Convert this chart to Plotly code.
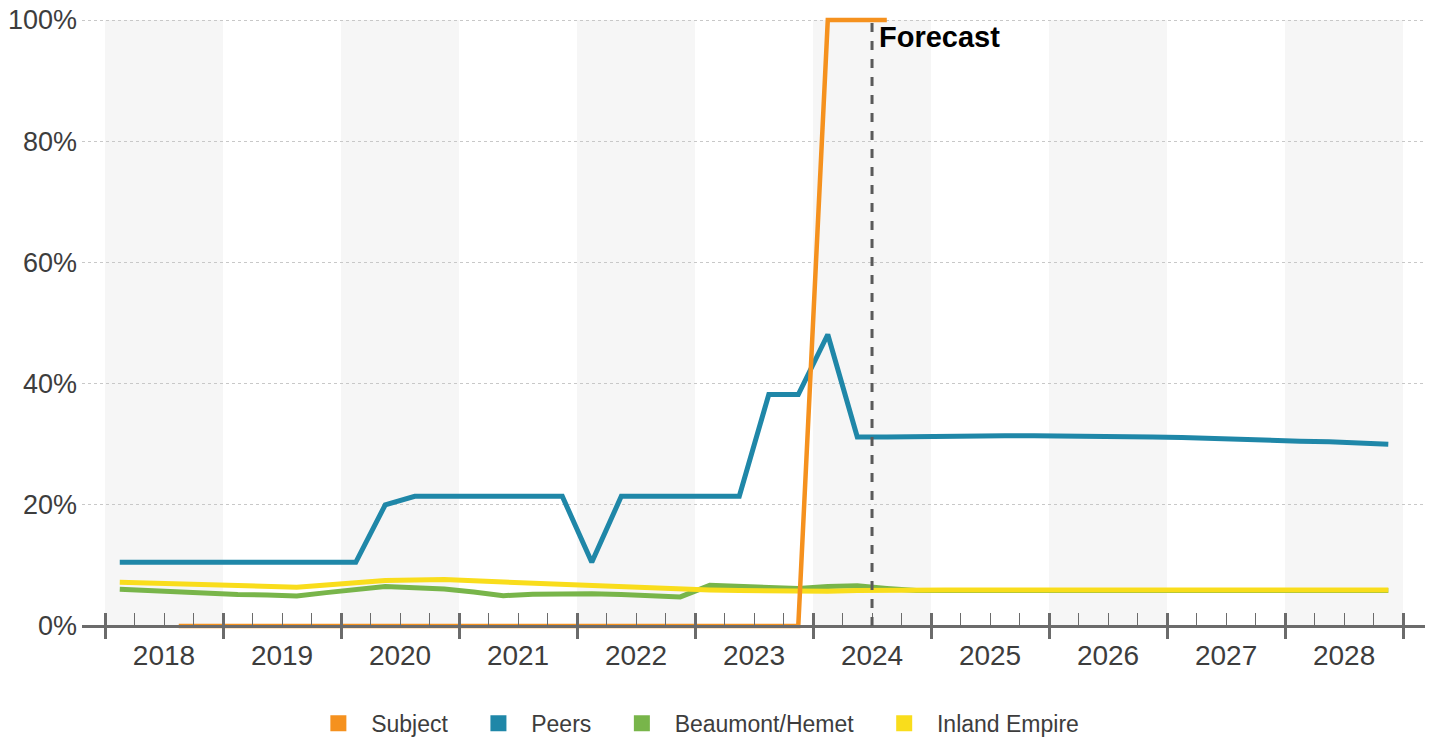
import plotly.graph_objects as go

# Quarterly series, 2018Q1 .. 2028Q4 (values in %)
QUARTERS = [f"{y}Q{q}" for y in range(2018, 2029) for q in range(1, 5)]

subject = [None, None,
           0, 0, 0, 0, 0, 0, 0, 0, 0, 0, 0, 0, 0, 0, 0, 0, 0, 0, 0, 0, 0, 0,
           100, 100, 100,
           None, None, None, None, None, None, None, None, None, None, None,
           None, None, None, None, None, None]

peers = [10.5, 10.5, 10.5, 10.5, 10.5, 10.5, 10.5, 10.5, 10.5,
         20.0, 21.4, 21.4, 21.4, 21.4, 21.4, 21.4,
         10.5, 21.4, 21.4, 21.4, 21.4, 21.4,
         38.2, 38.2, 48.1, 31.2, 31.2, 31.3, 31.4, 31.4, 31.4, 31.4, 31.4,
         31.3, 31.3, 31.2, 31.1, 30.9, 30.8, 30.7, 30.5, 30.4, 30.2, 30.0]

beaumont_hemet = [6.05, 5.8, 5.55, 5.3, 5.2, 5.1, 4.95, 5.5, 6.0, 6.5, 6.3, 6.1,
                  5.6, 5.0, 5.25, 5.35, 5.3, 5.2, 5.1, 4.8, 6.7, 6.6, 6.45, 6.2,
                  6.5, 6.65, 6.2, 5.85, 5.85, 5.85, 5.85, 5.85, 5.85, 5.85, 5.85,
                  5.85, 5.85, 5.85, 5.85, 5.85, 5.85, 5.85, 5.85, 5.85]

inland_empire = [7.2, 7.05, 6.95, 6.8, 6.7, 6.55, 6.4, 6.75, 7.1, 7.5, 7.6, 7.65,
                 7.45, 7.25, 7.05, 6.9, 6.6, 6.4, 6.2, 6.05, 5.95, 5.85, 5.75, 5.65,
                 5.75, 5.85, 5.95, 5.95, 5.95, 5.95, 5.95, 5.95, 5.95, 5.95, 5.95,
                 5.95, 5.95, 5.95, 5.95, 5.95, 5.95, 5.95, 5.95, 5.95]

YEARS = list(range(2018, 2029))
Y_TICKS = [0, 20, 40, 60, 80, 100]
Y_TICK_TEXT = ["0%", "20%", "40%", "60%", "80%", "100%"]
FORECAST_START = 2024.5

SERIES_NAMES = ["Subject", "Peers", "Beaumont/Hemet", "Inland Empire"]
COLORS = {"Subject": "#F5911E", "Peers": "#1F87A8",
          "Beaumont/Hemet": "#78B54A", "Inland Empire": "#F9DD1C"}


def quarter_mid(label):
    """Position of a quarter's midpoint on a fractional-year axis."""
    year, q = label.split("Q")
    return int(year) + (int(q) - 0.5) / 4


x = [quarter_mid(q) for q in QUARTERS]

FONT = "Liberation Sans, Arial, sans-serif"
TEXT_COLOR = "#3d3d3d"
AXIS_COLOR = "#6b6b6b"

X_RANGE = [2017.805, 2029.186]
Y_RANGE = [-0.5, 100.5]
zero_pos = (0 - Y_RANGE[0]) / (Y_RANGE[1] - Y_RANGE[0])

fig = go.Figure()

# lines (drawing order: green, yellow, blue, orange on top)
draw_order = [("Beaumont/Hemet", beaumont_hemet, 5),
              ("Inland Empire", inland_empire, 5),
              ("Peers", peers, 5),
              ("Subject", subject, 4.5)]
for name, vals, w in draw_order:
    fig.add_trace(go.Scatter(
        x=x, y=vals, mode="lines", name=name, showlegend=False,
        line=dict(color=COLORS[name], width=w), hoverinfo="skip"))

# square legend swatches
for name in SERIES_NAMES:
    fig.add_trace(go.Scatter(
        x=[None], y=[None], mode="markers",
        name="\u00a0\u00a0" + name + "\u00a0\u00a0\u00a0\u00a0",
        marker=dict(symbol="square", size=16, color=COLORS[name]),
        showlegend=True))

# alternate-year shading
for yr in YEARS[::2]:
    fig.add_shape(type="rect", xref="x", yref="y", x0=yr, x1=yr + 1, y0=0, y1=100,
                  fillcolor="#f6f6f6", line_width=0, layer="below")

# forecast divider
fig.add_shape(type="line", xref="x", yref="y", x0=FORECAST_START, x1=FORECAST_START,
              y0=0, y1=100, line=dict(color="#5a5a5a", width=3, dash="dash"),
              layer="above")
fig.add_annotation(x=FORECAST_START, y=100, xref="x", yref="y", text="<b>Forecast</b>",
                   showarrow=False, xanchor="left", yanchor="top", xshift=5, yshift=1,
                   font=dict(family=FONT, size=29, color="#000000"))

fig.update_layout(
    width=1438, height=740,
    margin=dict(l=82, r=13, t=17, b=111, autoexpand=False),
    paper_bgcolor="white", plot_bgcolor="white",
    font=dict(family=FONT, color=TEXT_COLOR),
    legend=dict(orientation="h", x=0.176, xanchor="left", y=-0.154, yanchor="middle",
                font=dict(family=FONT, size=23, color=TEXT_COLOR),
                bgcolor="rgba(0,0,0,0)"),
    xaxis=dict(range=X_RANGE, showgrid=False, zeroline=False, showline=False,
               tickvals=[y + 0.5 for y in YEARS], ticktext=[str(y) for y in YEARS],
               ticks="", tickfont=dict(family=FONT, size=28, color=TEXT_COLOR),
               ticklabelstandoff=7),
    # baseline with major ticks below and quarter ticks above
    xaxis2=dict(range=X_RANGE, overlaying="x", anchor="free", position=zero_pos,
                showgrid=False, zeroline=False, showline=True, linecolor=AXIS_COLOR,
                linewidth=3, tickvals=YEARS + [YEARS[-1] + 1], ticks="outside",
                ticklen=11, tickwidth=3, tickcolor=AXIS_COLOR, showticklabels=False,
                minor=dict(tickvals=[quarter_mid(q) + 0.125 for q in QUARTERS],
                           ticks="inside", ticklen=12, tickwidth=1.2,
                           tickcolor=AXIS_COLOR, showgrid=False)),
    # upper half of the major ticks
    xaxis3=dict(range=X_RANGE, overlaying="x", anchor="free", position=zero_pos,
                showgrid=False, zeroline=False, showline=False,
                tickvals=YEARS + [YEARS[-1] + 1], ticks="inside", ticklen=13,
                tickwidth=3, tickcolor=AXIS_COLOR, showticklabels=False),
    yaxis=dict(range=Y_RANGE, tickvals=Y_TICKS, ticktext=Y_TICK_TEXT, showgrid=True,
               gridcolor="#c8c8c8", griddash="dot", gridwidth=1, zeroline=False,
               showline=False, ticks="", ticklabelstandoff=4,
               tickfont=dict(family=FONT, size=27, color=TEXT_COLOR)),
)

# invisible anchors so the overlay axes are rendered
fig.add_trace(go.Scatter(x=[None], y=[None], xaxis="x2", showlegend=False, hoverinfo="skip"))
fig.add_trace(go.Scatter(x=[None], y=[None], xaxis="x3", showlegend=False, hoverinfo="skip"))

fig.write_html("out.html")
